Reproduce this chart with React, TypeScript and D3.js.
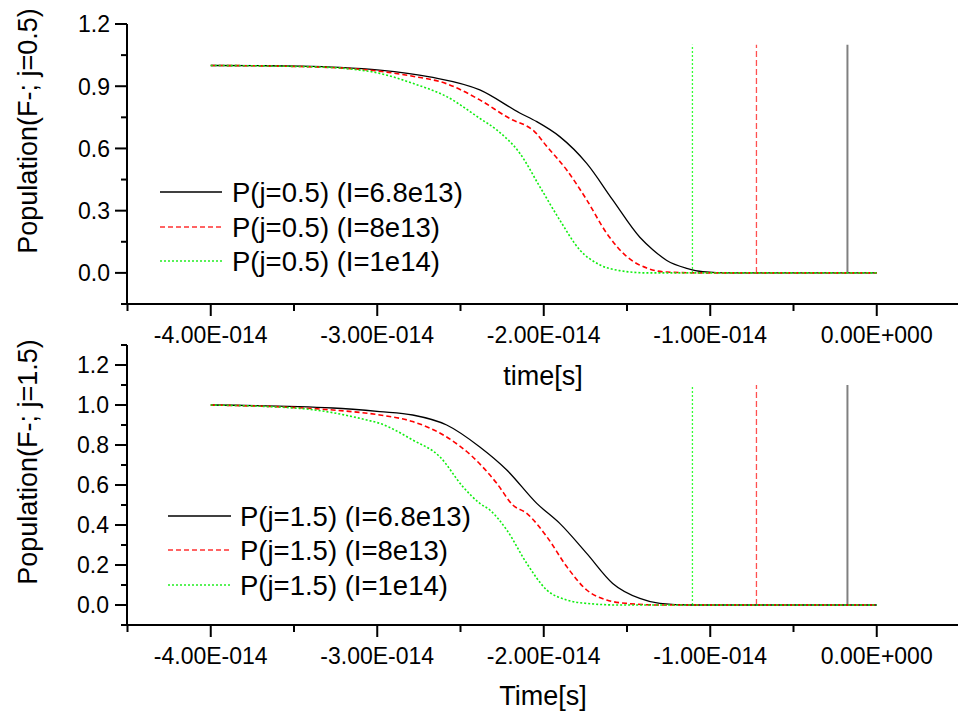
import React from 'react';
import * as d3 from 'd3';

// time values are in units of 1e-14 s
const xTickValues = [-4, -3, -2, -1, 0];
const xTickLabels = ['-4.00E-014', '-3.00E-014', '-2.00E-014', '-1.00E-014', '0.00E+000'];
const xMinorTicks = [-4.5, -3.5, -2.5, -1.5, -0.5, 0.5];

const topYTicks = [0, 0.3, 0.6, 0.9, 1.2];
const topYTickLabels = ['0.0', '0.3', '0.6', '0.9', '1.2'];
const topYMinor = [-0.15, 0.15, 0.45, 0.75, 1.05];

const bottomYTicks = [0, 0.2, 0.4, 0.6, 0.8, 1.0, 1.2];
const bottomYTickLabels = ['0.0', '0.2', '0.4', '0.6', '0.8', '1.0', '1.2'];
const bottomYMinor = [-0.1, 0.1, 0.3, 0.5, 0.7, 0.9, 1.1, 1.3];

const topLegend = ['P(j=0.5) (I=6.8e13)', 'P(j=0.5) (I=8e13)', 'P(j=0.5) (I=1e14)'];
const bottomLegend = ['P(j=1.5) (I=6.8e13)', 'P(j=1.5) (I=8e13)', 'P(j=1.5) (I=1e14)'];

// vertical marker lines (black, red, green), height 1.1
const markerTimes = [-0.176, -0.7225, -1.107];
const markerHeight = 1.1;

// j = 0.5 panel
const topBlack: [number, number][] = [
  [-4.0, 1.0], [-3.706, 0.999], [-3.466, 0.997], [-3.225, 0.991], [-2.985, 0.978], [-2.685, 0.945],
  [-2.384, 0.882], [-2.144, 0.771], [-2.042, 0.729], [-1.904, 0.657], [-1.742, 0.528], [-1.586, 0.352],
  [-1.423, 0.172], [-1.345, 0.112], [-1.261, 0.06], [-1.141, 0.022], [-1.045, 0.006], [-0.88, 0.0], [0, 0],
];
const topRed: [number, number][] = [
  [-4.0, 1.0], [-3.466, 0.995], [-2.985, 0.972], [-2.787, 0.948], [-2.583, 0.912], [-2.384, 0.834],
  [-2.186, 0.737], [-2.102, 0.708], [-2.06, 0.685], [-1.982, 0.61], [-1.862, 0.496], [-1.742, 0.352],
  [-1.622, 0.191], [-1.502, 0.079], [-1.381, 0.023], [-1.261, 0.004], [-1.06, 0.0], [0, 0],
];
const topGreen: [number, number][] = [
  [-4.0, 1.0], [-3.405, 0.994], [-3.183, 0.985], [-2.985, 0.962], [-2.787, 0.914], [-2.583, 0.85],
  [-2.384, 0.745], [-2.282, 0.689], [-2.144, 0.577], [-2.024, 0.416], [-1.904, 0.255], [-1.784, 0.111],
  [-1.664, 0.039], [-1.544, 0.011], [-1.381, 0.0], [0, 0],
];

// j = 1.5 panel
const bottomBlack: [number, number][] = [
  [-4.0, 1.0], [-3.267, 0.985], [-2.985, 0.967], [-2.787, 0.95], [-2.583, 0.9], [-2.384, 0.79],
  [-2.222, 0.675], [-2.042, 0.508], [-1.904, 0.408], [-1.742, 0.258], [-1.586, 0.108], [-1.423, 0.033],
  [-1.303, 0.008], [-1.12, 0.0], [0, 0],
];
const bottomRed: [number, number][] = [
  [-4.0, 1.0], [-3.267, 0.975], [-2.985, 0.95], [-2.787, 0.917], [-2.583, 0.84], [-2.426, 0.74],
  [-2.282, 0.608], [-2.186, 0.5], [-2.102, 0.458], [-1.982, 0.342], [-1.862, 0.192], [-1.742, 0.075],
  [-1.622, 0.025], [-1.502, 0.008], [-1.3, 0.0], [0, 0],
];
const bottomGreen: [number, number][] = [
  [-4.0, 1.0], [-3.466, 0.983], [-3.063, 0.925], [-2.985, 0.908], [-2.787, 0.825], [-2.625, 0.742],
  [-2.486, 0.592], [-2.384, 0.508], [-2.324, 0.475], [-2.222, 0.375], [-2.102, 0.208], [-1.982, 0.075],
  [-1.862, 0.025], [-1.742, 0.008], [-1.55, 0.0], [0, 0],
];

const FONT = "'Liberation Sans', Arial, Helvetica, sans-serif";

const seriesStyles = [
  { stroke: '#000000', width: 1.3, dash: undefined as string | undefined },
  { stroke: '#ff0000', width: 1.6, dash: '5,3' },
  { stroke: '#11ee11', width: 1.6, dash: '2,2' },
];
const markerStyles = [
  { stroke: '#808080', width: 2, dash: undefined as string | undefined },
  { stroke: '#ff5050', width: 1.3, dash: '6,3' },
  { stroke: '#33ff33', width: 1.3, dash: '2,2' },
];
const legendStyles = [
  { stroke: '#000000', width: 1.3, dash: undefined as string | undefined },
  { stroke: '#ff3030', width: 1.5, dash: '5,3' },
  { stroke: '#22ee22', width: 1.5, dash: '2,2' },
];

const x = d3.scaleLinear().domain([-4.5, 0.5]).range([127.5, 960]);

type PanelProps = {
  yDomain: [number, number];
  yRange: [number, number];
  yTicks: number[];
  yTickLabels: string[];
  yMinor: number[];
  series: [number, number][][];
  legend: string[];
  legendX: [number, number, number];
  legendY: number[];
  yLabel: string;
  yLabelCenter: number;
  xLabel: string;
  xLabelBaseline: number;
  yTickRight: number;
};

function Panel(p: PanelProps) {
  const y = d3.scaleLinear().domain(p.yDomain).range(p.yRange);
  const line = d3
    .line<[number, number]>()
    .x((d) => x(d[0]))
    .y((d) => y(d[1]))
    .curve(d3.curveMonotoneX);
  const axisY = p.yRange[0];
  const axisX = 127;
  return (
    <g>
      {/* vertical markers */}
      {markerTimes.map((t, i) => (
        <line
          key={'m' + i}
          x1={x(t)}
          x2={x(t)}
          y1={y(0)}
          y2={y(markerHeight)}
          stroke={markerStyles[i].stroke}
          strokeWidth={markerStyles[i].width}
          strokeDasharray={markerStyles[i].dash}
        />
      ))}
      {/* series */}
      {p.series.map((s, i) => (
        <path
          key={'s' + i}
          d={line(s) || ''}
          fill="none"
          stroke={seriesStyles[i].stroke}
          strokeWidth={seriesStyles[i].width}
          strokeDasharray={seriesStyles[i].dash}
        />
      ))}
      {/* axes */}
      <line x1={axisX} x2={axisX} y1={p.yRange[1]} y2={axisY + 1} stroke="#000" strokeWidth={2} />
      <line x1={axisX - 1} x2={962} y1={axisY} y2={axisY} stroke="#000" strokeWidth={2} />
      {p.yTicks.map((v, i) => (
        <g key={'yt' + i}>
          <line x1={axisX - 12} x2={axisX} y1={y(v)} y2={y(v)} stroke="#000" strokeWidth={2} />
          <text
            x={p.yTickRight}
            y={y(v)}
            dy="0.36em"
            textAnchor="end"
            fontFamily={FONT}
            fontSize={23}
          >
            {p.yTickLabels[i]}
          </text>
        </g>
      ))}
      {p.yMinor.map((v, i) => (
        <line key={'ym' + i} x1={axisX - 6} x2={axisX} y1={y(v)} y2={y(v)} stroke="#000" strokeWidth={2} />
      ))}
      {xTickValues.map((v, i) => (
        <g key={'xt' + i}>
          <line x1={x(v)} x2={x(v)} y1={axisY} y2={axisY + 12} stroke="#000" strokeWidth={2} />
          <text x={x(v)} y={axisY + 38.5} textAnchor="middle" fontFamily={FONT} fontSize={23}>
            {xTickLabels[i]}
          </text>
        </g>
      ))}
      {xMinorTicks.map((v, i) => (
        <line key={'xm' + i} x1={x(v)} x2={x(v)} y1={axisY} y2={axisY + 7} stroke="#000" strokeWidth={2} />
      ))}
      {/* axis titles */}
      <text
        transform={`translate(37,${p.yLabelCenter}) rotate(-90)`}
        textAnchor="middle"
        fontFamily={FONT}
        fontSize={27}
      >
        {p.yLabel}
      </text>
      <text x={543} y={p.xLabelBaseline} textAnchor="middle" fontFamily={FONT} fontSize={27}>
        {p.xLabel}
      </text>
      {/* legend */}
      {p.legend.map((name, i) => (
        <g key={'lg' + i}>
          <line
            x1={p.legendX[0]}
            x2={p.legendX[1]}
            y1={p.legendY[i]}
            y2={p.legendY[i]}
            stroke={legendStyles[i].stroke}
            strokeWidth={legendStyles[i].width}
            strokeDasharray={legendStyles[i].dash}
          />
          <text x={p.legendX[2]} y={p.legendY[i] + 9.5} fontFamily={FONT} fontSize={27.5}>
            {name}
          </text>
        </g>
      ))}
    </g>
  );
}

export default function App() {
  return (
    <svg
      width={958}
      height={719}
      style={{ position: 'absolute', left: 0, top: 0, background: '#fff' }}
    >
      <rect width={958} height={719} fill="#fff" />
      <Panel
        yDomain={[-0.15, 1.2]}
        yRange={[304, 24]}
        yTicks={topYTicks}
        yTickLabels={topYTickLabels}
        yMinor={topYMinor}
        series={[topBlack, topRed, topGreen]}
        legend={topLegend}
        legendX={[160, 222, 232]}
        legendY={[192, 227, 261]}
        yLabel="Population(F-; j=0.5)"
        yLabelCenter={131}
        xLabel="time[s]"
        xLabelBaseline={385}
        yTickRight={110}
      />
      <Panel
        yDomain={[-0.1, 1.3]}
        yRange={[625, 345]}
        yTicks={bottomYTicks}
        yTickLabels={bottomYTickLabels}
        yMinor={bottomYMinor}
        series={[bottomBlack, bottomRed, bottomGreen]}
        legend={bottomLegend}
        legendX={[168, 231, 240]}
        legendY={[516, 550, 585]}
        yLabel="Population(F-; j=1.5)"
        yLabelCenter={462}
        xLabel="Time[s]"
        xLabelBaseline={705}
        yTickRight={109}
      />
    </svg>
  );
}
